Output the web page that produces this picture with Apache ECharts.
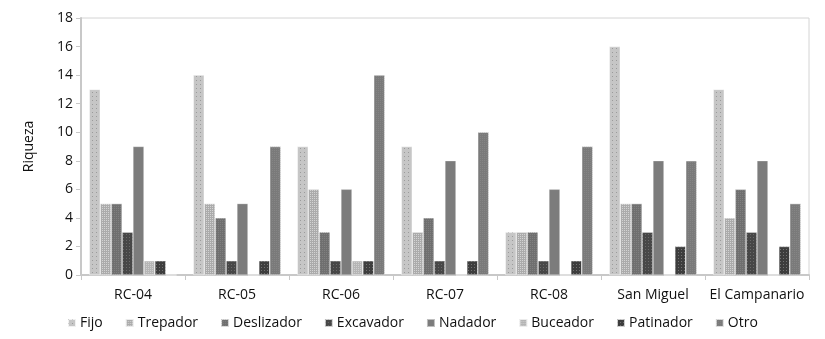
<!DOCTYPE html>
<html>
<head>
<meta charset="utf-8">
<script src="https://cdn.jsdelivr.net/npm/echarts@6/dist/echarts.min.js"></script>
<style>
  html, body { margin: 0; padding: 0; background: #fff; }
  #chart { width: 825px; height: 339px; }
</style>
</head>
<body>
<div id="chart"></div>
<script>
// Sitios muestreados
const categories = ['RC-04', 'RC-05', 'RC-06', 'RC-07', 'RC-08', 'San Miguel', 'El Campanario'];

// Riqueza por gremio locomotor
const fijo       = [13, 14, 9, 9, 3, 16, 13];
const trepador   = [5, 5, 6, 3, 3, 5, 4];
const deslizador = [5, 4, 3, 4, 3, 5, 6];
const excavador  = [3, 1, 1, 1, 1, 3, 3];
const nadador    = [9, 5, 6, 8, 6, 8, 8];
const buceador   = [1, 0, 1, 0, 0, 0, 0];
const patinador  = [1, 1, 1, 1, 1, 2, 2];
const otro       = [0, 9, 14, 10, 9, 8, 5];

const yTicks = [0, 2, 4, 6, 8, 10, 12, 14, 16, 18];

const FONT = '"Open Sans", "Noto Sans", sans-serif';

function dots(color, step) {
  return {
    symbol: 'rect',
    symbolSize: 1,
    dashArrayX: [1, step],
    dashArrayY: [1, step],
    color: color,
    rotation: 0
  };
}

const seriesDefs = [
  { name: 'Fijo',       data: fijo,       color: '#c6c6c6', decal: dots('rgba(150,150,150,0.9)', 3) },
  { name: 'Trepador',   data: trepador,   color: '#ababab', decal: dots('rgba(215,215,215,0.9)', 1) },
  { name: 'Deslizador', data: deslizador, color: '#6f6f6f', decal: dots('rgba(130,130,130,0.9)', 1) },
  { name: 'Excavador',  data: excavador,  color: '#474747', decal: dots('rgba(110,110,110,0.9)', 2) },
  { name: 'Nadador',    data: nadador,    color: '#7c7c7c', decal: null },
  { name: 'Buceador',   data: buceador,   color: '#b5b5b5', decal: dots('rgba(210,210,210,0.9)', 1) },
  { name: 'Patinador',  data: patinador,  color: '#3d3d3d', decal: dots('rgba(120,120,120,0.9)', 2) },
  { name: 'Otro',       data: otro,       color: '#7a7a7a', decal: dots('rgba(140,140,140,0.6)', 1) }
];

const chart = echarts.init(document.getElementById('chart'), null, { renderer: 'canvas' });

chart.setOption({
  animation: false,
  backgroundColor: '#fff',
  textStyle: { fontFamily: FONT },
  grid: {
    left: 81, right: 16, top: 18, bottom: 64,
    show: true, borderColor: '#d4d4d4', borderWidth: 1, backgroundColor: 'transparent'
  },
  legend: {
    bottom: 4,
    left: 62,
    itemWidth: 8,
    itemHeight: 8,
    itemGap: 22,
    icon: 'rect',
    textStyle: { fontFamily: FONT, fontSize: 14, color: '#111', padding: [0, 0, 0, -1] },
    data: seriesDefs.map(s => s.name)
  },
  xAxis: {
    type: 'category',
    data: categories,
    axisLine: { lineStyle: { color: '#c8c8c8', width: 2 } },
    axisTick: { show: true, alignWithLabel: false, length: 5, lineStyle: { color: '#c8c8c8' } },
    axisLabel: { interval: 0, fontFamily: FONT, fontSize: 14, color: '#111', margin: 13 }
  },
  yAxis: {
    type: 'value',
    name: 'Riqueza',
    nameLocation: 'middle',
    nameGap: 45,
    nameRotate: 90,
    nameTextStyle: { fontFamily: FONT, fontSize: 14, color: '#111' },
    min: yTicks[0],
    max: yTicks[yTicks.length - 1],
    interval: 2,
    axisLine: { show: true, lineStyle: { color: '#c8c8c8', width: 2 } },
    axisTick: { show: true, inside: false, length: 5, lineStyle: { color: '#c8c8c8' } },
    splitLine: { show: false },
    axisLabel: { fontFamily: FONT, fontSize: 14, color: '#111', margin: 8 }
  },
  series: seriesDefs.map(s => ({
    name: s.name,
    type: 'bar',
    data: s.data,
    barGap: '0%',
    barCategoryGap: '16%',
    itemStyle: {
      color: s.color,
      borderColor: 'rgba(255,255,255,0.5)',
      borderWidth: 0.5,
      decal: s.decal || undefined
    }
  }))
});
</script>
</body>
</html>
